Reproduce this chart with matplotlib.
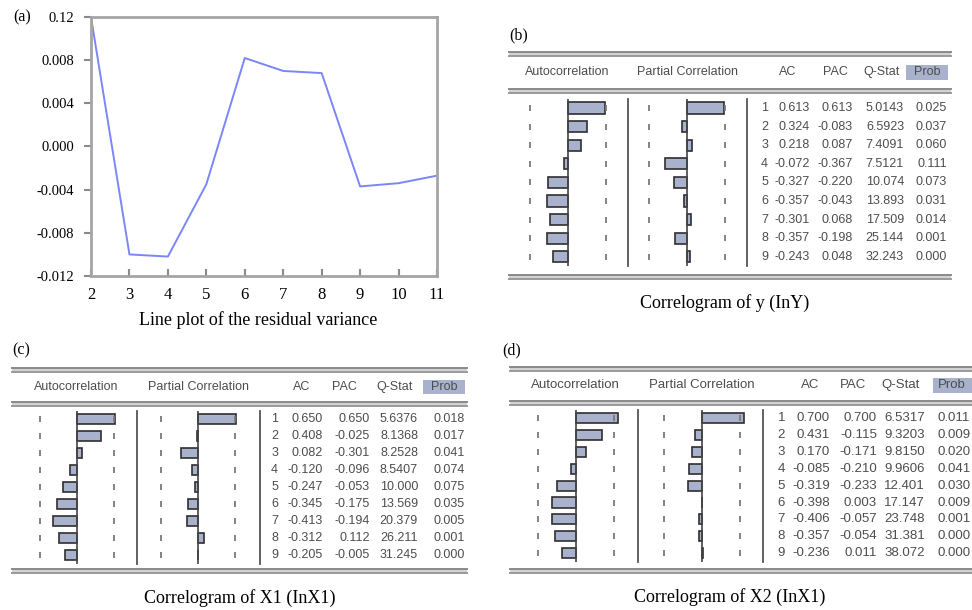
import numpy as np
import matplotlib
matplotlib.use("Agg")
import matplotlib.pyplot as plt
from matplotlib.patches import Rectangle

plt.rcParams["font.family"] = ["Liberation Sans", "DejaVu Sans"]

W, H = 972, 610

# (a) residual variance line plot
var_x = [2, 3, 4, 5, 6, 7, 8, 9, 10, 11]
resid_var = [0.0120, -0.0100, -0.0102, -0.0035, 0.0082, 0.0070, 0.0068, -0.0037, -0.0034, -0.0027]
yticks_a = [0.012, 0.008, 0.004, 0.0, -0.004, -0.008, -0.012]
ytick_labels_a = ["0.12", "0.008", "0.004", "0.000", "-0.004", "-0.008", "-0.012"]

# correlogram tables
lags = [1, 2, 3, 4, 5, 6, 7, 8, 9]
n_obs = 10
headers = ["Autocorrelation", "Partial Correlation", "AC", "PAC", "Q-Stat", "Prob"]

y_ac = [0.613, 0.324, 0.218, -0.072, -0.327, -0.357, -0.301, -0.357, -0.243]
y_pac = [0.613, -0.083, 0.087, -0.367, -0.220, -0.043, 0.068, -0.198, 0.048]
y_q = [5.0143, 6.5923, 7.4091, 7.5121, 10.074, 13.893, 17.509, 25.144, 32.243]
y_prob = [0.025, 0.037, 0.060, 0.111, 0.073, 0.031, 0.014, 0.001, 0.000]

x1_ac = [0.650, 0.408, 0.082, -0.120, -0.247, -0.345, -0.413, -0.312, -0.205]
x1_pac = [0.650, -0.025, -0.301, -0.096, -0.053, -0.175, -0.194, 0.112, -0.005]
x1_q = [5.6376, 8.1368, 8.2528, 8.5407, 10.000, 13.569, 20.379, 26.211, 31.245]
x1_prob = [0.018, 0.017, 0.041, 0.074, 0.075, 0.035, 0.005, 0.001, 0.000]

x2_ac = [0.700, 0.431, 0.170, -0.085, -0.319, -0.398, -0.406, -0.357, -0.236]
x2_pac = [0.700, -0.115, -0.171, -0.210, -0.233, 0.003, -0.057, -0.054, 0.011]
x2_q = [6.5317, 9.3203, 9.8150, 9.9606, 12.401, 17.147, 23.748, 31.381, 38.072]
x2_prob = [0.011, 0.009, 0.020, 0.041, 0.030, 0.009, 0.001, 0.000, 0.000]

TXT = "#4d4d4d"
SERIF = "Liberation Serif"

fig = plt.figure(figsize=(W / 100, H / 100), dpi=100)
ov = fig.add_axes([0, 0, 1, 1])
ov.set_xlim(0, W)
ov.set_ylim(H, 0)
ov.axis("off")


def px_axes(x0, y0, x1, y1):
    """axes placed by pixel box (top-left origin)"""
    return fig.add_axes([x0 / W, 1 - y1 / H, (x1 - x0) / W, (y1 - y0) / H])


def fmt_q(v):
    # eviews shows 5 significant digits
    return f"{v:.4f}" if v < 10 else f"{v:.3f}"


def double_line(x0, x1, y):
    ov.fill_between([x0, x1], [y, y], [y + 4, y + 4], color="#d2d2d2", lw=0)
    ov.plot([x0, x1], [y, y], color="#8a8a8a", lw=1.4)
    ov.plot([x0, x1], [y + 4, y + 4], color="#9a9a9a", lw=1.4)


def correlogram(L, ac, pac, q, prob):
    ov.text(L["label"][0], L["label"][1], L["name"], family=SERIF, fontsize=11.5,
            ha="left", va="center")
    left, right = L["left"], L["right"]
    double_line(left, right, L["top"])
    double_line(left, right, L["mid"])
    double_line(left, right, L["bottom"])

    px0, px1, py0, py1 = L["prob_box"]
    ov.add_patch(Rectangle((px0, py0), px1 - px0, py1 - py0, color="#a9b2cc", lw=0))
    for h, hx in zip(headers, L["head_x"]):
        ov.text(hx, L["head_y"], h, fontsize=L["fs"], color=TXT, ha="center", va="center")

    r1, sp = L["row1"], L["sp"]
    rows = r1 + (np.array(lags) - 1) * sp
    y_lo, y_hi = r1 - sp / 2, rows[-1] + sp / 2
    for sx in L["seps"]:
        ov.plot([sx, sx], [y_lo, y_hi], color="#555555", lw=1.3)

    bound = 2 / np.sqrt(n_obs)
    for zero, vals in [(L["auto_zero"], ac), (L["part_zero"], pac)]:
        bx = px_axes(zero - L["spp"], y_lo, zero + L["spp"], y_hi)
        bx.barh(lags, vals, height=0.6, color="#a8b2cc", edgecolor="#2f2f2f", lw=1.2)
        bx.axvline(0, color="#444444", lw=1.2)
        bx.plot([-bound] * len(lags), lags, ls="none", marker="|", ms=5, mew=1.3, color="#7a7a7a")
        bx.plot([bound] * len(lags), lags, ls="none", marker="|", ms=5, mew=1.3, color="#7a7a7a")
        bx.set_xlim(-1, 1)
        bx.set_ylim(len(lags) + 0.5, 0.5)
        bx.axis("off")

    cx = L["cols"]
    for i, lag in enumerate(lags):
        y = rows[i]
        kw = dict(fontsize=L["fs"], color=TXT, va="center")
        ov.text(cx[0], y, str(lag), ha="right", **kw)
        ov.text(cx[1], y, f"{ac[i]:.3f}", ha="right", **kw)
        ov.text(cx[2], y, f"{pac[i]:.3f}", ha="right", **kw)
        ov.text(cx[3], y, fmt_q(q[i]), ha="right", **kw)
        ov.text(cx[4], y, f"{prob[i]:.3f}", ha=L["prob_ha"], **kw)

    ov.text(L["caption"][0], L["caption"][1], L["caption_text"], family=SERIF, fontsize=13,
            ha="center", va="center")


# ---- panel (a)
ax = px_axes(91, 17, 437, 276)
ax.plot(var_x, resid_var, color="#7b86f7", lw=1.4)
ax.set_xlim(2, 11)
ax.set_ylim(-0.012, 0.012)
ax.set_xticks(var_x)
ax.set_xticklabels([str(v) for v in var_x], family=SERIF, fontsize=12)
ax.set_yticks(yticks_a)
ax.set_yticklabels(ytick_labels_a, family=SERIF, fontsize=10.5)
for s in ax.spines.values():
    s.set_color("#a5a5a5")
    s.set_linewidth(2)
ax.tick_params(axis="x", direction="in", length=5, width=1.5, color="#8a8a8a", pad=8)
ax.tick_params(axis="y", direction="out", length=5, width=1.5, color="#8a8a8a", pad=7)
ov.text(13, 17, "(a)", family=SERIF, fontsize=11.5, ha="left", va="center")
ov.text(258, 320, "Line plot of the residual variance", family=SERIF, fontsize=13,
        ha="center", va="center")

# ---- panels (b), (c), (d)
lay_b = dict(name="(b)", label=(509, 35), left=509, right=951, top=52, mid=89, bottom=275,
             head_y=72, head_x=[567, 687, 788, 835, 882, 927], prob_box=(906, 948, 65, 80),
             row1=108, sp=18.6, auto_zero=568, part_zero=687, spp=60, seps=[628, 747],
             cols=[768, 810, 853, 904, 947], prob_ha="right", fs=9,
             caption=(725, 303), caption_text="Correlogram of y (InY)")
lay_c = dict(name="(c)", label=(12, 350), left=12, right=467, top=368, mid=402, bottom=569,
             head_y=387, head_x=[76, 198, 302, 344, 395, 444], prob_box=(423, 465, 380, 394),
             row1=419, sp=17, auto_zero=77, part_zero=198, spp=58, seps=[137, 260],
             cols=[278, 323, 370, 418, 465], prob_ha="right", fs=9,
             caption=(240, 598), caption_text="Correlogram of X1 (InX1)")
lay_d = dict(name="(d)", label=(502, 350), left=510, right=980, top=367, mid=401, bottom=569,
             head_y=385, head_x=[575, 702, 810, 853, 901, 952], prob_box=(933, 980, 378, 393),
             row1=418, sp=16.9, auto_zero=576, part_zero=702, spp=60, seps=[638, 763],
             cols=[785, 830, 877, 925, 937], prob_ha="left", fs=9.5,
             caption=(730, 597), caption_text="Correlogram of X2 (InX1)")

correlogram(lay_b, y_ac, y_pac, y_q, y_prob)
correlogram(lay_c, x1_ac, x1_pac, x1_q, x1_prob)
correlogram(lay_d, x2_ac, x2_pac, x2_q, x2_prob)

fig.savefig("out.png", dpi=100)
